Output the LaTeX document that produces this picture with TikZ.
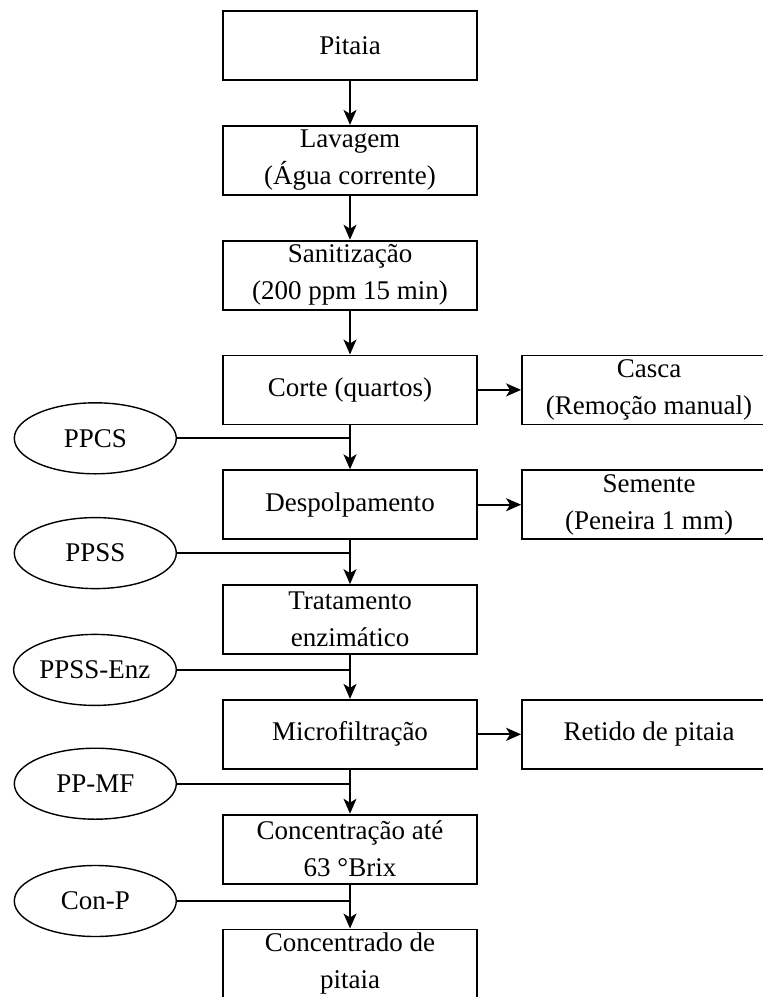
\documentclass[tikz,border=0pt]{standalone}
\usepackage{fontspec}
\setmainfont{Liberation Serif}
\usetikzlibrary{arrows.meta, positioning, shapes.geometric}

\begin{document}
\begin{tikzpicture}[
        x=0.5pt, y=-0.5pt,
        font=\fontsize{13.5}{18.5}\selectfont,
        >={Stealth[length=7.5pt, width=6.5pt, inset=2pt]},
        line width=0.9pt,
        node distance=22pt,
        box/.style={
            draw,
            align=center,
            minimum width=127pt,
            minimum height=34.5pt,
            inner xsep=2pt,
            inner ysep=1.5pt
        },
        oval/.style={
            ellipse,
            draw,
            line width=0.7pt,
            minimum width=81pt,
            minimum height=35.5pt,
            inner sep=1pt
        }
    ]
        \clip (0,0) rectangle (763,997);

        % main line
        \node[box] (pitaia) at (350,45.5) {Pitaia};
        \node[box, below=of pitaia] (lavagem) {Lavagem\\(Água corrente)};
        \node[box, below=of lavagem] (sanitizacao) {Sanitização\\(200 ppm 15 min)};
        \node[box, below=of sanitizacao] (corte) {Corte (quartos)};
        \node[box, below=of corte] (despolpa) {Despolpamento};
        \node[box, below=of despolpa] (enzima) {Tratamento\\enzimático};
        \node[box, below=of enzima] (microfilt) {Microfiltração};
        \node[box, below=of microfilt] (concentra) {Concentração até\\63 °Brix};
        \node[box, below=of concentra] (concentrado) {Concentrado de\\pitaia};

        % residues
        \node[box, right=21.6pt of corte] (casca) {Casca\\(Remoção manual)};
        \node[box, right=21.6pt of despolpa] (semente) {Semente\\(Peneira 1 mm)};
        \node[box, right=21.6pt of microfilt] (retido) {Retido de pitaia};

        % samples
        \coordinate (jPPCS) at ([yshift=-6.5pt]corte.south);
        \coordinate (jPPSS) at ([yshift=-6.5pt]despolpa.south);
        \coordinate (jEnz) at ([yshift=-7.5pt]enzima.south);
        \coordinate (jMF) at ([yshift=-7pt]microfilt.south);
        \coordinate (jCon) at ([yshift=-8.25pt]concentra.south);

        \node[oval, left=86.5pt of jPPCS] (ppcs) {PPCS};
        \node[oval, left=86.5pt of jPPSS] (ppss) {PPSS};
        \node[oval, left=86.5pt of jEnz] (ppssEnz) {PPSS-Enz};
        \node[oval, left=86.5pt of jMF] (ppMF) {PP-MF};
        \node[oval, left=86.5pt of jCon] (conP) {Con-P};

        \draw[->] (pitaia) -- (lavagem);
        \draw[->] (lavagem) -- (sanitizacao);
        \draw[->] (sanitizacao) -- (corte);
        \draw[->] (corte) -- (despolpa);
        \draw[->] (despolpa) -- (enzima);
        \draw[->] (enzima) -- (microfilt);
        \draw[->] (microfilt) -- (concentra);
        \draw[->] (concentra) -- (concentrado);

        \draw[->] (corte) -- (casca);
        \draw[->] (despolpa) -- (semente);
        \draw[->] (microfilt) -- (retido);

        \draw (ppcs) -- (jPPCS);
        \draw (ppss) -- (jPPSS);
        \draw (ppssEnz) -- (jEnz);
        \draw (ppMF) -- (jMF);
        \draw (conP) -- (jCon);

    \end{tikzpicture}
\end{document}
